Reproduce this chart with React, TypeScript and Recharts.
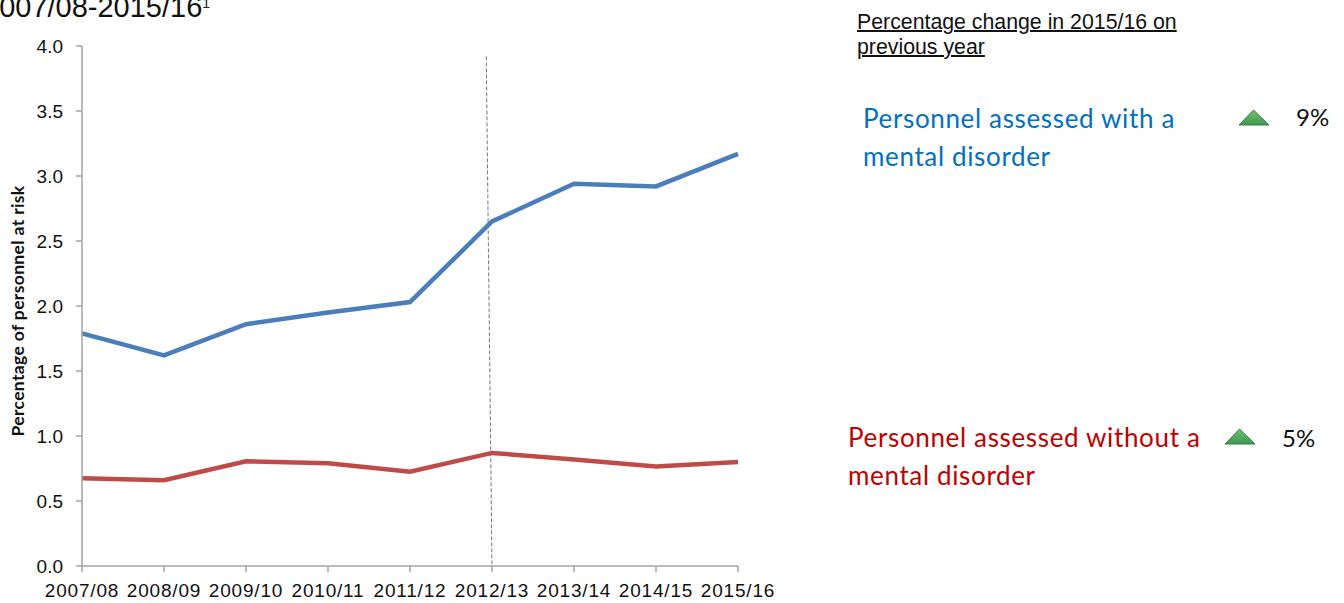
import React from "react";
import { LineChart, Line, XAxis, YAxis, ReferenceLine } from "recharts";

const categories = ["2007/08", "2008/09", "2009/10", "2010/11", "2011/12", "2012/13", "2013/14", "2014/15", "2015/16"];
const withDisorder = [1.79, 1.62, 1.86, 1.95, 2.03, 2.65, 2.94, 2.92, 3.17];
const withoutDisorder = [0.675, 0.66, 0.805, 0.79, 0.725, 0.87, 0.82, 0.765, 0.8];
const yTicks = [0, 0.5, 1, 1.5, 2, 2.5, 3, 3.5, 4];
const xTicks = categories.map((_, i) => i);
const rows = categories.map((c, i) => ({ i, category: c, withDisorder: withDisorder[i], withoutDisorder: withoutDisorder[i] }));

const axisColor = "#a3a3a3";
const arial = "'Liberation Sans', Arial, sans-serif";
const lato = "Lato, sans-serif";

const abs = (left: number, top: number, extra: React.CSSProperties = {}): React.CSSProperties => ({
  position: "absolute",
  left,
  top,
  whiteSpace: "nowrap",
  ...extra,
});

function Tri({ left, top }: { left: number; top: number }) {
  return (
    <svg width={32} height={20} style={{ position: "absolute", left, top }}>
      <defs>
        <linearGradient id={`g${top}`} x1="0" y1="0" x2="0" y2="1">
          <stop offset="0" stopColor="#6fbf73" />
          <stop offset="1" stopColor="#3f9a4e" />
        </linearGradient>
      </defs>
      <polygon points="1,18 15.5,3 31,18" fill={`url(#g${top})`} stroke="#3a7a48" strokeWidth={1} />
    </svg>
  );
}

export default function App() {
  return (
    <div style={{ position: "absolute", left: 0, top: 0, width: 1344, height: 603, overflow: "hidden", background: "#fff" }}>
      <div style={abs(-17, -9, { fontFamily: arial, fontSize: 29, color: "#111", lineHeight: "32px" })}>
        2007/08-2015/16<sup style={{ fontSize: 14, verticalAlign: "9px", lineHeight: 0 }}>1</sup>
      </div>
      <LineChart width={1344} height={603} data={rows} margin={{ top: 46, right: 606, bottom: 0, left: 0 }}>
        <XAxis
          dataKey="i"
          type="number"
          domain={[0, 8]}
          ticks={xTicks}
          interval={0}
          height={37}
          tickFormatter={(v: number) => categories[v]}
          tick={{ fontFamily: arial, fontSize: 19, fill: "#111", letterSpacing: 0.8 }}
          tickSize={6}
          tickMargin={12}
          stroke={axisColor}
          strokeWidth={1.5}
        />
        <YAxis
          type="number"
          domain={[0, 4]}
          ticks={yTicks}
          width={82}
          interval={0}
          tickFormatter={(v: number) => v.toFixed(1)}
          tick={{ fontFamily: arial, fontSize: 19, fill: "#111" }}
          tickSize={6}
          tickMargin={13}
          stroke={axisColor}
          strokeWidth={1.5}
          label={{
            value: "Percentage of personnel at risk",
            angle: -90,
            position: "insideLeft",
            offset: 18,
            dy: 5,
            style: { fontFamily: lato, fontSize: 17.5, fontWeight: 700, fill: "#111", textAnchor: "middle", letterSpacing: 0.35 },
          }}
        />
        <ReferenceLine
          segment={[{ x: 4.93, y: 3.92 }, { x: 5, y: 0 }]}
          stroke="#777"
          strokeDasharray="4 2"
          strokeWidth={1}
          ifOverflow="visible"
        />
        <Line dataKey="withDisorder" stroke="#4a7ebb" strokeWidth={4.5} dot={false} isAnimationActive={false} />
        <Line dataKey="withoutDisorder" stroke="#be4b48" strokeWidth={4.5} dot={false} isAnimationActive={false} />
      </LineChart>
      <div
        style={abs(857, 10, {
          fontFamily: arial,
          fontSize: 21.3,
          lineHeight: "25px",
          color: "#111",
          textDecoration: "underline",
          textDecorationThickness: 2,
        })}
      >
        Percentage change in 2015/16 on
        <br />
        previous year
      </div>
      <div style={abs(863, 99, { fontFamily: lato, fontSize: 26, lineHeight: "38px", color: "#0070c0", letterSpacing: 0.65 })}>
        Personnel assessed with a
        <br />
        mental disorder
      </div>
      <div style={abs(848, 418, { fontFamily: lato, fontSize: 26, lineHeight: "38px", color: "#c00000", letterSpacing: 0.65 })}>
        Personnel assessed without a
        <br />
        mental disorder
      </div>
      <Tri left={1238} top={107} />
      <Tri left={1224} top={426} />
      <div style={abs(1296, 102, { fontFamily: lato, fontSize: 24, color: "#111" })}>9%</div>
      <div style={abs(1282, 423, { fontFamily: lato, fontSize: 24, color: "#111" })}>5%</div>
    </div>
  );
}
